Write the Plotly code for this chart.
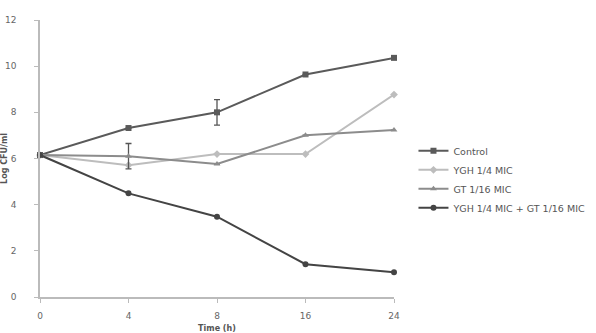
import plotly.graph_objects as go

time_labels = ["0", "4", "8", "16", "24"]
control = [6.15, 7.32, 8.0, 9.64, 10.36]
control_err = [0, 0, 0.55, 0, 0]
ygh = [6.15, 5.71, 6.19, 6.19, 8.77]
gt = [6.15, 6.1, 5.76, 7.01, 7.23]
gt_err = [0, 0.55, 0, 0, 0]
combo = [6.15, 4.49, 3.48, 1.42, 1.07]

series = [
    ("Control", control, control_err, "#5a5a5a", "square", 6),
    ("YGH 1/4 MIC", ygh, None, "#bdbdbd", "diamond", 6),
    ("GT 1/16 MIC", gt, gt_err, "#8c8c8c", "triangle-up", 6),
    ("YGH 1/4 MIC + GT 1/16 MIC", combo, None, "#444444", "circle", 6),
]

fig = go.Figure()
for name, vals, err, col, sym, ms in series:
    kw = {}
    if err is not None:
        kw["error_y"] = dict(type="data", array=err, visible=True, color="#555555", thickness=1.3, width=3)
    fig.add_trace(go.Scatter(
        x=time_labels, y=vals, name=name, mode="lines+markers",
        line=dict(color=col, width=2),
        marker=dict(symbol=sym, size=ms, color=col),
        cliponaxis=False, **kw))

fig.update_layout(
    width=596, height=333,
    margin=dict(l=40, r=202, t=20, b=36, autoexpand=False),
    paper_bgcolor="white", plot_bgcolor="white",
    font=dict(family="DejaVu Sans", size=9, color="#555555"),
    showlegend=True,
    legend=dict(x=1.055, y=0.58, xanchor="left", yanchor="top",
                font=dict(size=9.5, color="#555555"), tracegroupgap=0,
                bgcolor="rgba(0,0,0,0)"),
    xaxis=dict(type="category", range=[0, 4], showline=True, linecolor="#bbbbbb", linewidth=1.5,
               ticks="outside", ticklen=4, tickcolor="#bbbbbb", showgrid=False,
               ticklabelstandoff=5,
               title=dict(text="<b>Time (h)</b>", font=dict(size=8, color="#555555"), standoff=6),
               tickfont=dict(size=9, color="#666666")),
    yaxis=dict(range=[0, 12], dtick=2, showline=True, linecolor="#bbbbbb", linewidth=1.5,
               ticks="outside", ticklen=4, tickcolor="#bbbbbb", showgrid=False, zeroline=False,
               ticklabelstandoff=16,
               title=dict(text="<b>Log CFU/ml</b>", font=dict(size=8, color="#555555"), standoff=2),
               tickfont=dict(size=9, color="#666666")),
)

fig.write_html("out.html")
